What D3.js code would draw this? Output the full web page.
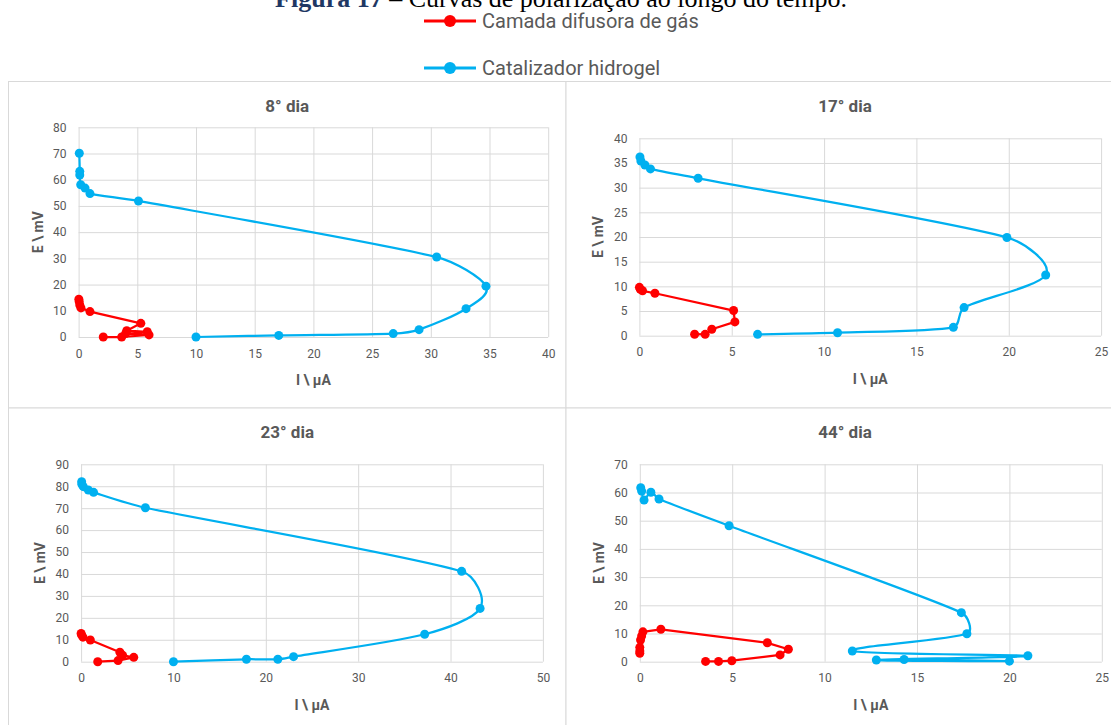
<!DOCTYPE html>
<html>
<head>
<meta charset="utf-8">
<script src="https://cdn.jsdelivr.net/npm/d3@7"></script>
<style>
  body { margin: 0; background: #fff; }
  svg { display: block; }
</style>
</head>
<body>
<div id="chart"></div>
<script>
// Panel titles and axis ranges
const panelTitles = ["8° dia", "17° dia", "23° dia", "44° dia"];
const xMax = [40, 25, 50, 25];
const xStep = [5, 5, 10, 5];
const yMax = [80, 40, 90, 70];
const yStep = [10, 5, 10, 10];

// Camada difusora de gás (I in µA, E in mV)
const gdl8I = [0.02, 0.05, 0.1, 0.2, 0.97, 5.3, 4.1, 5.85, 4.0, 6.0, 3.67, 2.1];
const gdl8E = [14.4, 13.5, 12.2, 11.1, 9.7, 5.2, 2.4, 2.0, 1.3, 0.8, 0.0, 0.0];
const gdl17I = [0.0, 0.05, 0.17, 0.84, 5.1, 5.17, 3.92, 3.56, 2.99];
const gdl17E = [9.8, 9.4, 9.1, 8.6, 5.1, 2.8, 1.3, 0.27, 0.3];
const gdl23I = [0.0, 0.05, 0.2, 1.0, 4.2, 4.5, 5.7, 4.0, 1.8];
const gdl23E = [12.9, 12.2, 11.2, 9.9, 4.3, 2.9, 2.0, 0.5, 0.0];
const gdl44I = [0.0, 0.0, 0.0, 0.04, 0.1, 0.17, 1.14, 6.9, 8.04, 7.59, 4.98, 4.26, 3.56];
const gdl44E = [3.0, 3.8, 5.1, 7.7, 9.1, 10.6, 11.5, 6.7, 4.4, 2.4, 0.35, 0.1, 0.1];

// Catalizador hidrogel
const hyd8I = [0.06, 0.1, 0.1, 0.18, 0.55, 0.97, 5.1, 30.5, 34.7, 33.0, 29.0, 26.8, 17.05, 10.0];
const hyd8E = [70.1, 63.2, 61.8, 58.1, 56.8, 54.7, 51.9, 30.5, 19.4, 10.8, 2.8, 1.3, 0.6, 0.0];
const hyd17I = [0.03, 0.08, 0.3, 0.6, 3.18, 19.9, 22.0, 17.58, 17.0, 10.73, 6.4];
const hyd17E = [36.2, 35.4, 34.6, 33.8, 31.9, 19.9, 12.3, 5.7, 1.7, 0.6, 0.27];
const hyd23I = [0.06, 0.08, 0.24, 0.78, 1.35, 6.96, 41.2, 43.2, 37.2, 23.0, 21.3, 17.9, 10.0];
const hyd23E = [82.1, 80.9, 79.8, 78.3, 77.2, 70.2, 41.2, 24.3, 12.5, 2.3, 1.1, 1.1, 0.0];
const hyd44I = [0.05, 0.1, 0.23, 0.6, 1.04, 4.83, 17.4, 17.7, 11.5, 21.0, 12.8, 20.0, 14.3];
const hyd44E = [61.7, 60.5, 57.3, 60.1, 57.7, 48.2, 17.4, 9.9, 3.8, 2.1, 0.6, 0.2, 0.8];

const gdlSeries = [[gdl8I, gdl8E], [gdl17I, gdl17E], [gdl23I, gdl23E], [gdl44I, gdl44E]];
const hydSeries = [[hyd8I, hyd8E], [hyd17I, hyd17E], [hyd23I, hyd23E], [hyd44I, hyd44E]];

const legendNames = ["Camada difusora de gás", "Catalizador hidrogel"];
const red = "#FF0000", blue = "#00B0F0";
const textColor = "#595959";

// Layout: panel boxes and plot areas
const width = 1111, height = 725;
const boxes = [
  { x: 8.5, y: 81.5, w: 557.5, h: 326.5 },
  { x: 566, y: 81.5, w: 558, h: 326.5 },
  { x: 8.5, y: 408, w: 557.5, h: 330 },
  { x: 566, y: 408, w: 558, h: 330 }
];
const plots = [
  { x0: 78.6, x1: 548.2, y0: 337, y1: 127.3 },
  { x0: 639.4, x1: 1101.1, y0: 335.7, y1: 138.3 },
  { x0: 81.1, x1: 542.9, y0: 661.7, y1: 464.3 },
  { x0: 639.8, x1: 1101.8, y0: 661.7, y1: 464.3 }
];

// Spreadsheet-style smoothed line: Catmull-Rom tangents, clamped per segment
function smoothCurve(context) {
  let pts = [];
  return {
    areaStart() {}, areaEnd() {},
    lineStart() { pts = []; },
    point(x, y) { pts.push([+x, +y]); },
    lineEnd() {
      const n = pts.length;
      if (!n) return;
      context.moveTo(pts[0][0], pts[0][1]);
      for (let i = 0; i < n - 1; i++) {
        const p0 = pts[Math.max(i - 1, 0)], p1 = pts[i], p2 = pts[i + 1], p3 = pts[Math.min(i + 2, n - 1)];
        const lim = Math.hypot(p2[0] - p1[0], p2[1] - p1[1]) / 3;
        let t1 = [(p2[0] - p0[0]) / 6, (p2[1] - p0[1]) / 6];
        let t2 = [(p3[0] - p1[0]) / 6, (p3[1] - p1[1]) / 6];
        const l1 = Math.hypot(t1[0], t1[1]), l2 = Math.hypot(t2[0], t2[1]);
        if (l1 > lim) t1 = t1.map(v => v * lim / l1);
        if (l2 > lim) t2 = t2.map(v => v * lim / l2);
        context.bezierCurveTo(p1[0] + t1[0], p1[1] + t1[1], p2[0] - t2[0], p2[1] - t2[1], p2[0], p2[1]);
      }
    }
  };
}

const svg = d3.select("#chart")
  .append("svg")
  .attr("width", width)
  .attr("height", height);

// Figure caption (cut off at the top, as in the source)
const cap = svg.append("text")
  .attr("x", 561)
  .attr("y", 7)
  .attr("text-anchor", "middle")
  .style("font-family", "'Liberation Serif', 'DejaVu Serif', serif")
  .style("font-size", "26px");
cap.append("tspan").attr("fill", "#1F3864").style("font-weight", "bold").text("Figura 17");
cap.append("tspan").attr("fill", "#000").text(" – Curvas de polarização ao longo do tempo.");

// Legend
const legend = svg.append("g");
[red, blue].forEach((c, i) => {
  const ly = i === 0 ? 21 : 68;
  legend.append("line")
    .attr("x1", 424).attr("x2", 476)
    .attr("y1", ly).attr("y2", ly)
    .attr("stroke", c).attr("stroke-width", 3);
  legend.append("circle")
    .attr("cx", 450).attr("cy", ly).attr("r", 6)
    .attr("fill", c);
  legend.append("text")
    .attr("x", 482).attr("y", ly)
    .attr("dy", "0.35em")
    .attr("fill", textColor)
    .style("font-family", "'Liberation Sans Narrow', 'Roboto', sans-serif")
    .style("font-size", "20px")
    .text(legendNames[i]);
});

// Draw each panel
panelTitles.forEach((title, i) => {
  const b = boxes[i], p = plots[i];
  const g = svg.append("g");

  g.append("rect")
    .attr("x", b.x).attr("y", b.y)
    .attr("width", b.w).attr("height", b.h)
    .attr("fill", "#fff")
    .attr("stroke", "#D9D9D9")
    .attr("stroke-width", 1);

  const x = d3.scaleLinear().domain([0, xMax[i]]).range([p.x0, p.x1]);
  const y = d3.scaleLinear().domain([0, yMax[i]]).range([p.y0, p.y1]);
  const xTicks = d3.range(0, xMax[i] + xStep[i] / 2, xStep[i]);
  const yTicks = d3.range(0, yMax[i] + yStep[i] / 2, yStep[i]);

  // Gridlines
  g.append("g")
    .attr("transform", `translate(0,${p.y0})`)
    .call(d3.axisBottom(x).tickValues(xTicks).tickSize(p.y1 - p.y0).tickFormat(""))
    .call(s => s.select(".domain").remove())
    .call(s => s.selectAll("line").attr("stroke", "#D9D9D9"));
  g.append("g")
    .attr("transform", `translate(${p.x0},0)`)
    .call(d3.axisLeft(y).tickValues(yTicks).tickSize(p.x0 - p.x1).tickFormat(""))
    .call(s => s.select(".domain").remove())
    .call(s => s.selectAll("line").attr("stroke", "#D9D9D9"));

  // Tick labels
  g.append("g")
    .attr("transform", `translate(0,${p.y0})`)
    .call(d3.axisBottom(x).tickValues(xTicks).tickSize(0).tickPadding(12))
    .call(s => s.select(".domain").remove())
    .call(s => s.selectAll("text")
      .attr("fill", textColor)
      .style("font-family", "Roboto, sans-serif")
      .style("font-size", "12px"));
  g.append("g")
    .attr("transform", `translate(${p.x0},0)`)
    .call(d3.axisLeft(y).tickValues(yTicks).tickSize(0).tickPadding(12))
    .call(s => s.select(".domain").remove())
    .call(s => s.selectAll("text")
      .attr("fill", textColor)
      .style("font-family", "Roboto, sans-serif")
      .style("font-size", "12px"));

  // Titles
  g.append("text")
    .attr("x", b.x + b.w / 2).attr("y", b.y + 24.5)
    .attr("dy", "0.35em")
    .attr("text-anchor", "middle")
    .attr("fill", textColor)
    .style("font-family", "Roboto, sans-serif")
    .style("font-weight", "bold")
    .style("font-size", "17px")
    .text(title);
  g.append("text")
    .attr("x", (p.x0 + p.x1) / 2).attr("y", p.y0 + 43)
    .attr("dy", "0.35em")
    .attr("text-anchor", "middle")
    .attr("fill", textColor)
    .style("font-family", "Roboto, sans-serif")
    .style("font-weight", "bold")
    .style("font-size", "14px")
    .text("I \\ µA");
  g.append("text")
    .attr("transform", `translate(${p.x0 - 41},${(p.y0 + p.y1) / 2}) rotate(-90)`)
    .attr("dy", "0.35em")
    .attr("text-anchor", "middle")
    .attr("fill", textColor)
    .style("font-family", "Roboto, sans-serif")
    .style("font-weight", "bold")
    .style("font-size", "14px")
    .text("E \\ mV");

  // Series: red straight, blue smoothed like the spreadsheet line
  const series = [
    { data: d3.zip(gdlSeries[i][0], gdlSeries[i][1]), color: red, curve: d3.curveLinear },
    { data: d3.zip(hydSeries[i][0], hydSeries[i][1]), color: blue, curve: smoothCurve }
  ];
  series.forEach(s => {
    const line = d3.line()
      .x(d => x(d[0]))
      .y(d => y(d[1]))
      .curve(s.curve);
    g.append("path")
      .attr("d", line(s.data))
      .attr("fill", "none")
      .attr("stroke", s.color)
      .attr("stroke-width", 2.25)
      .attr("stroke-linejoin", "round");
    g.selectAll(null)
      .data(s.data)
      .enter()
      .append("circle")
      .attr("cx", d => x(d[0]))
      .attr("cy", d => y(d[1]))
      .attr("r", 4.5)
      .attr("fill", s.color);
  });
});
</script>
</body>
</html>
